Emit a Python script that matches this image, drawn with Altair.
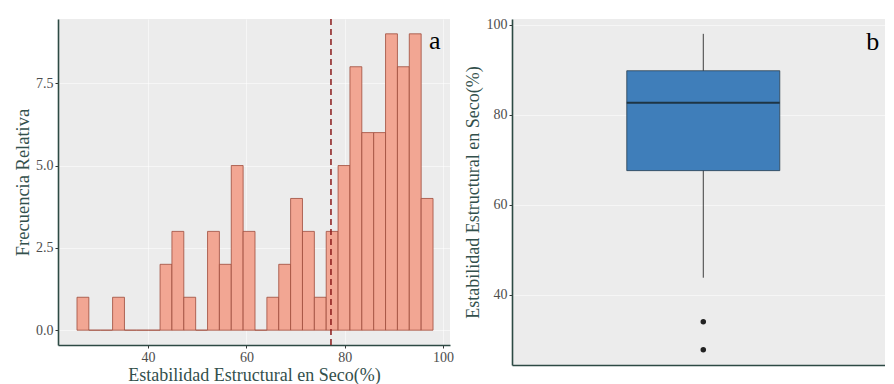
import altair as alt
import pandas as pd

# ---------------- data ----------------
bin_start = 25.56
bin_width = 2.413
counts = [1, 0, 0, 1, 0, 0, 0, 2, 3, 1, 0, 3, 2, 5, 3, 0, 1, 2, 4, 3, 1, 3, 5, 8, 6, 6, 9, 8, 9, 4]
mean_line = [77.2]

box_q1 = [67.6]
box_median = [82.7]
box_q3 = [89.8]
whisker_low = [43.8]
whisker_high = [98.0]
outliers = [34.0, 27.8]

label_a = ["a"]
label_b = ["b"]

# ---------------- style ----------------
FONT = "Liberation Serif"
PANEL_BG = "#ECECEC"
AXIS_LINE = "#2d4a44"
TITLE_COLOR = "#33504c"
LABEL_COLOR = "#4d4d4d"

hist_df = pd.DataFrame({
    "x0": [bin_start + i * bin_width for i in range(len(counts))],
    "x1": [bin_start + (i + 1) * bin_width for i in range(len(counts))],
    "count": counts,
})
mean_df = pd.DataFrame({"m": mean_line})
ann_a = pd.DataFrame({"x": [98.3], "y": [8.78], "t": label_a})

xs = alt.Scale(domain=[21.7, 101.4], nice=False, zero=False)
ys = alt.Scale(domain=[-0.45, 9.45], nice=False, zero=False)

x_axis_a = alt.Axis(values=[40, 60, 80, 100], title="Estabilidad Estructural en Seco(%)",
                    gridColor="white", gridOpacity=0.55, titlePadding=2, titleFontSize=18)
y_axis_a = alt.Axis(values=[0, 2.5, 5, 7.5], format=".1f", title="Frecuencia Relativa",
                    gridColor="white", gridOpacity=0.55, titlePadding=3.5, titleFontSize=18.5)

bars = alt.Chart(hist_df).mark_bar(fill="#F2A693", stroke="#9e4b3b", strokeWidth=0.8).encode(
    x=alt.X("x0:Q", scale=xs, axis=x_axis_a),
    x2="x1:Q",
    y=alt.Y("count:Q", scale=ys, axis=y_axis_a),
    y2=alt.datum(0),
)
vline = alt.Chart(mean_df).mark_rule(color="#8b1a1a", strokeDash=[6, 4], strokeWidth=1.5).encode(
    x=alt.X("m:Q", scale=xs)
)
txt_a = alt.Chart(ann_a).mark_text(font=FONT, fontSize=26, color="black", baseline="middle").encode(
    x=alt.X("x:Q", scale=xs), y=alt.Y("y:Q", scale=ys), text="t:N"
)
panel_a = alt.layer(bars, vline, txt_a).properties(width=392, height=326)

# ---------------- boxplot ----------------
bx = alt.Scale(domain=[0, 1.95], nice=False, zero=False)
by = alt.Scale(domain=[24.4, 101.3], nice=False, zero=False)
box_df = pd.DataFrame({
    "pos": [1.0], "left": [0.6], "right": [1.4],
    "q1": box_q1, "med": box_median, "q3": box_q3,
    "lo": whisker_low, "hi": whisker_high,
})
out_df = pd.DataFrame({"pos": [1.0] * len(outliers), "v": outliers})
ann_b = pd.DataFrame({"x": [1.92], "y": [96.2], "t": label_b})

y_axis_b = alt.Axis(values=[40, 60, 80, 100], title="Estabilidad Estructural en Seco(%)",
                    gridColor="white", gridOpacity=0.55, titlePadding=4, titleFontSize=18)
x_axis_b = alt.Axis(labels=False, ticks=False, title=None, grid=False)

whisk = alt.Chart(box_df).mark_rule(color="#111111", strokeWidth=0.8).encode(
    x=alt.X("pos:Q", scale=bx, axis=x_axis_b),
    y=alt.Y("lo:Q", scale=by, axis=y_axis_b),
    y2="hi:Q",
)
box = alt.Chart(box_df).mark_bar(fill="#3F7EBA", stroke="#2a3f4f", strokeWidth=0.8).encode(
    x=alt.X("left:Q", scale=bx), x2="right:Q",
    y=alt.Y("q1:Q", scale=by), y2="q3:Q",
)
med = alt.Chart(box_df).mark_rule(color="#1e3544", strokeWidth=2).encode(
    x=alt.X("left:Q", scale=bx), x2="right:Q",
    y=alt.Y("med:Q", scale=by),
)
outp = alt.Chart(out_df).mark_point(filled=True, color="#222222", size=30, opacity=1).encode(
    x=alt.X("pos:Q", scale=bx), y=alt.Y("v:Q", scale=by)
)
txt_b = alt.Chart(ann_b).mark_text(font=FONT, fontSize=26, color="black", baseline="middle", align="right").encode(
    x=alt.X("x:Q", scale=bx), y=alt.Y("y:Q", scale=by), text="t:N"
)
panel_b = alt.layer(whisk, box, med, outp, txt_b).properties(width=373, height=346)

chart = alt.hconcat(panel_a, panel_b, spacing=10).properties(
    padding={"left": 5, "top": 9, "right": 0, "bottom": 0},
    background="white",
).configure_view(
    fill=PANEL_BG, stroke=None,
).configure_axis(
    labelFont=FONT, titleFont=FONT, labelFontSize=14, titleFontSize=17,
    labelColor=LABEL_COLOR, titleColor=TITLE_COLOR, titleFontWeight="normal",
    domainColor=AXIS_LINE, domainWidth=1.6, tickColor="#333333", tickSize=3,
    labelPadding=2, grid=True,
)

chart.save("out.html", embed_options={"renderer": "svg", "actions": False})
